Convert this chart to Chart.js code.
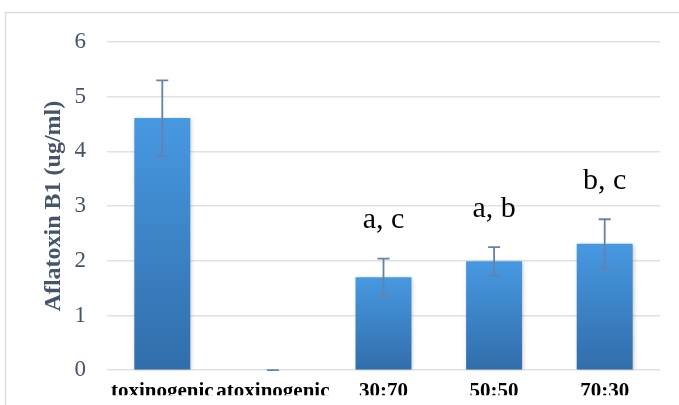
<!DOCTYPE html>
<html>
<head>
<meta charset="utf-8">
<script src="https://cdn.jsdelivr.net/npm/chart.js@4.4.0/dist/chart.umd.min.js"></script>
<style>
  html, body { margin: 0; padding: 0; background: #fff; }
  #wrap { width: 679px; height: 405px; }
</style>
</head>
<body>
<div id="wrap"><canvas id="chart" width="679" height="405"></canvas></div>
<script>
/* data */
const categories = ['toxinogenic', 'atoxinogenic', '30:70', '50:50', '70:30'];
const values = [4.61, 0, 1.70, 1.99, 2.31];
const errors = [0.69, 0, 0.34, 0.26, 0.45];
const letters = ['', '', 'a, c', 'a, b', 'b, c'];
const yTicks = [0, 1, 2, 3, 4, 5, 6];

const SLATE = '#44546A';
const SERIF = '"Liberation Serif", "Times New Roman", serif';

/* per-bar vertical gradient, like the office style fill */
function barFill(ctx) {
    const chart = ctx.chart;
    const y = chart.scales && chart.scales.y;
    if (!y || ctx.dataIndex === undefined) return '#3f88d0';
    const top = y.getPixelForValue(values[ctx.dataIndex]);
    const base = y.getPixelForValue(0);
    if (!isFinite(top) || base - top < 1) return '#3f88d0';
    const g = chart.ctx.createLinearGradient(0, top, 0, base);
    g.addColorStop(0, '#4799E2');
    g.addColorStop(1, '#316DAA');
    return g;
}

/* frame round the whole chart */
const framePlugin = {
    id: 'frame',
    beforeDraw(chart) {
        const c = chart.ctx;
        c.save();
        c.strokeStyle = '#D9DDE3';
        c.lineWidth = 1.5;
        c.strokeRect(5.5, 12.5, 720, 420);
        c.restore();
    }
};

/* soft shadow under the bars */
const shadowPlugin = {
    id: 'barShadow',
    beforeDatasetDraw(chart) {
        const c = chart.ctx;
        c.save();
        c.shadowColor = 'rgba(0,0,0,0.22)';
        c.shadowBlur = 4;
        c.shadowOffsetX = 1;
        c.shadowOffsetY = 1;
    },
    afterDatasetDraw(chart) {
        chart.ctx.restore();
    }
};

/* error bars and significance letters */
const errorPlugin = {
    id: 'errorBars',
    afterDatasetsDraw(chart) {
        const c = chart.ctx;
        const y = chart.scales.y;
        const meta = chart.getDatasetMeta(0);
        c.save();
        meta.data.forEach((bar, i) => {
            const x = bar.x;
            const hi = y.getPixelForValue(values[i] + errors[i]);
            const lo = y.getPixelForValue(values[i] - errors[i]);
            c.strokeStyle = '#6682A8';
            c.lineWidth = 1.8;
            c.beginPath();
            c.moveTo(x, hi); c.lineTo(x, lo);
            c.moveTo(x - 6, hi); c.lineTo(x + 6, hi);
            c.moveTo(x - 6, lo); c.lineTo(x + 6, lo);
            c.stroke();
            if (letters[i]) {
                c.fillStyle = '#000';
                c.font = '30px ' + SERIF;
                c.textAlign = 'center';
                c.textBaseline = 'middle';
                c.fillText(letters[i], x, hi - 38);
            }
        });
        c.restore();
    }
};

new Chart(document.getElementById('chart'), {
    type: 'bar',
    data: {
        labels: categories,
        datasets: [{
            data: values,
            backgroundColor: barFill,
            borderWidth: 0,
            categoryPercentage: 1,
            barPercentage: 0.506
        }]
    },
    options: {
        responsive: false,
        animation: false,
        layout: { padding: { left: 0, right: 19, top: 42, bottom: 0 } },
        plugins: {
            legend: { display: false },
            tooltip: { enabled: false }
        },
        scales: {
            x: {
                grid: { display: false },
                border: { display: false },
                ticks: {
                    color: '#000',
                    padding: 1,
                    maxRotation: 0,
                    autoSkip: false,
                    font: { family: SERIF, size: 21, weight: 'bold' }
                },
                afterFit(scale) { scale.height = 25; }
            },
            y: {
                min: 0,
                max: 6,
                afterBuildTicks(scale) { scale.ticks = yTicks.map(v => ({ value: v })); },
                grid: { color: '#DEE2E8', lineWidth: 1.5, drawTicks: false },
                border: { display: false },
                ticks: {
                    color: SLATE,
                    padding: 21,
                    font: { family: SERIF, size: 23 }
                },
                title: {
                    display: true,
                    text: 'Aflatoxin B1 (ug/ml)',
                    color: SLATE,
                    padding: { top: 39, bottom: 0 },
                    font: { family: SERIF, size: 24, weight: 'bold' }
                },
                afterFit(scale) { scale.width = 107; }
            }
        }
    },
    plugins: [framePlugin, shadowPlugin, errorPlugin]
});
</script>
</body>
</html>
